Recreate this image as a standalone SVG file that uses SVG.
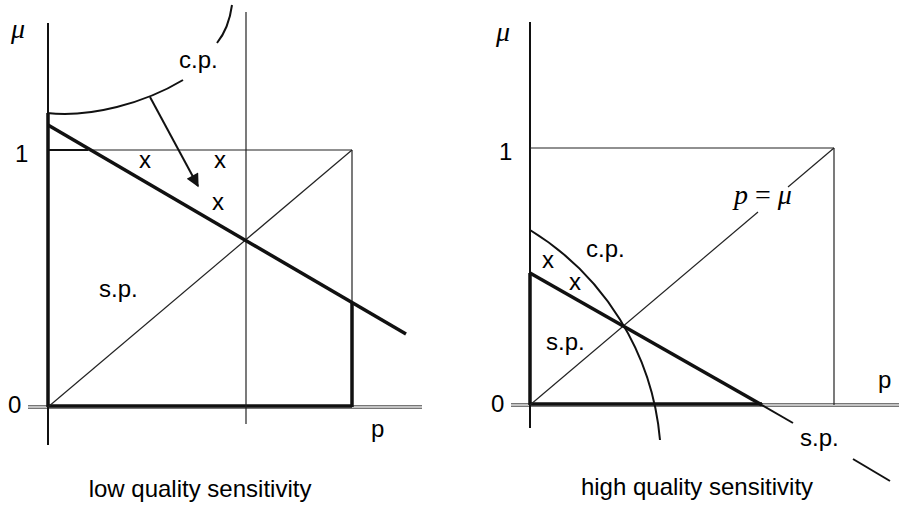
<svg xmlns="http://www.w3.org/2000/svg" width="899" height="508" viewBox="0 0 899 508">
<style>
.t{font-family:"Liberation Sans",Arial,sans-serif;font-size:24px;fill:#000}
.m{font-family:"Liberation Serif","Times New Roman",serif;font-style:italic;font-size:28px;fill:#000}
.eq{font-family:"Liberation Serif","Times New Roman",serif;font-size:28px;fill:#000}
.ti{font-family:"Liberation Sans",Arial,sans-serif;font-size:24px;fill:#000;text-anchor:middle}
.thin{stroke:#222;stroke-width:1.2;fill:none}
.med{stroke:#111;stroke-width:2;fill:none}
.thick{stroke:#111;stroke-width:3.5;fill:none}
.ax{stroke:#777;stroke-width:4;fill:none}
.axi{stroke:#ddd;stroke-width:1.4;fill:none}
</style>
<defs>
<marker id="ah" viewBox="0 0 10 10" refX="9" refY="5" markerWidth="9" markerHeight="6.5" orient="auto" markerUnits="strokeWidth">
<path d="M0,0 L10,5 L0,10 z" fill="#111"/>
</marker>
</defs>
<rect width="899" height="508" fill="#fff"/>
<g id="left-panel">
<g id="left-axes">
<line class="ax" x1="28" y1="407" x2="422" y2="407"/>
<line class="axi" x1="28" y1="407" x2="422" y2="407"/>
<line class="med" x1="48" y1="23" x2="48" y2="445"/>
<line class="thick" x1="48" y1="113" x2="48" y2="407"/>
<line class="thick" x1="48" y1="406" x2="352" y2="406"/>
<line class="thin" x1="246" y1="12" x2="246" y2="424"/>
</g>
<g id="left-frame">
<line class="thin" x1="48" y1="150" x2="352" y2="150"/>
<line class="med" x1="48" y1="150" x2="88" y2="150"/>
<line class="thin" x1="352" y1="150" x2="352" y2="303"/>
<line class="thick" x1="352" y1="303" x2="352" y2="407"/>
<line class="thin" x1="48" y1="407" x2="352" y2="150"/>
</g>
<g id="left-sp">
<line class="thick" x1="48" y1="125" x2="406" y2="334"/>
</g>
<g id="left-cp">
<path class="med" d="M47,113 C90,118 145,103 183,80"/>
<path class="med" d="M217,43 C225,33 230,20 232,5"/>
</g>
<g id="connectors">
<line x1="150" y1="97" x2="198" y2="186" stroke="#111" stroke-width="2" marker-end="url(#ah)"/>
</g>
<g id="left-labels">
<text class="m" x="11" y="38">μ</text>
<text class="t" x="15" y="162">1</text>
<text class="t" x="8" y="413">0</text>
<text class="t" x="371" y="437">p</text>
<text class="t" x="99" y="297">s.p.</text>
<text class="t" x="179" y="68">c.p.</text>
<text class="t" x="139" y="168">x</text>
<text class="t" x="214" y="168">x</text>
<text class="t" x="212" y="210">x</text>
<text class="ti" x="200" y="497">low quality sensitivity</text>
</g>
</g>
<g id="right-panel">
<g id="right-axes">
<line class="ax" x1="511" y1="405" x2="899" y2="405"/>
<line class="axi" x1="511" y1="405" x2="899" y2="405"/>
<line class="med" x1="530" y1="22" x2="530" y2="428"/>
<line class="thick" x1="530" y1="273" x2="530" y2="405"/>
<line class="thick" x1="530" y1="404" x2="762" y2="404"/>
</g>
<g id="right-frame">
<line class="thin" x1="530" y1="148" x2="834" y2="148"/>
<line class="thin" x1="834" y1="148" x2="834" y2="405"/>
<line class="thin" x1="834" y1="148" x2="788" y2="187"/>
<line class="thin" x1="758" y1="212" x2="530" y2="405"/>
</g>
<g id="right-sp">
<line class="thick" x1="530" y1="273" x2="762" y2="405"/>
<line class="med" x1="760" y1="404" x2="793" y2="423"/>
<line class="med" x1="853" y1="459" x2="890" y2="481"/>
</g>
<g id="right-cp">
<path class="med" d="M530,230 A274,274 0 0 1 660,440"/>
</g>
<g id="right-labels">
<text class="m" x="496" y="41">μ</text>
<text class="t" x="499" y="160">1</text>
<text class="t" x="491" y="412">0</text>
<text class="t" x="878" y="388">p</text>
<text class="eq" x="734" y="204"><tspan font-style="italic">p</tspan> = <tspan font-style="italic">μ</tspan></text>
<text class="t" x="586" y="257">c.p.</text>
<text class="t" x="542" y="268">x</text>
<text class="t" x="569" y="290">x</text>
<text class="t" x="546" y="350">s.p.</text>
<text class="t" x="800" y="446">s.p.</text>
<text class="ti" x="697" y="495">high quality sensitivity</text>
</g>
</g>
</svg>
